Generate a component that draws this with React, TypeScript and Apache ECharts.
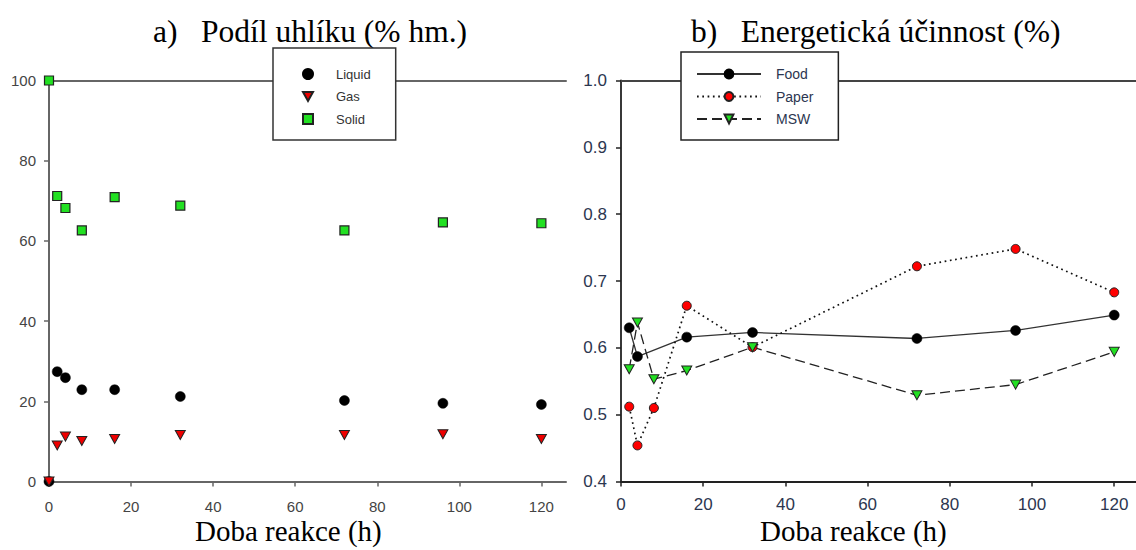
import React, { useEffect, useRef } from "react";
import * as echarts from "echarts";

// ---- data (panel a) ----
const timesA = [0, 2, 4, 8, 16, 32, 72, 96, 120];
const liquid = [0, 27.4, 25.9, 22.9, 22.9, 21.2, 20.2, 19.5, 19.2];
const gas = [0, 9.0, 11.2, 10.1, 10.6, 11.6, 11.6, 11.8, 10.6];
const solid = [100, 71.2, 68.2, 62.6, 70.9, 68.8, 62.6, 64.6, 64.4];

// ---- data (panel b) ----
const foodTimes = [2, 4, 16, 32, 72, 96, 120];
const food = [0.63, 0.587, 0.616, 0.623, 0.614, 0.626, 0.649];
const paperTimes = [2, 4, 8, 16, 32, 72, 96, 120];
const paper = [0.512, 0.454, 0.51, 0.663, 0.601, 0.722, 0.748, 0.683];
const mswTimes = [2, 4, 8, 16, 32, 72, 96, 120];
const msw = [0.568, 0.638, 0.553, 0.566, 0.601, 0.529, 0.545, 0.594];

const xTicks = [0, 20, 40, 60, 80, 100, 120];
const yTicksA = [0, 20, 40, 60, 80, 100];
const yTicksB = [0.4, 0.5, 0.6, 0.7, 0.8, 0.9, 1.0];

const titleA = "a)\u00a0\u00a0\u00a0Podíl uhlíku (% hm.)";
const titleB = "b)\u00a0\u00a0\u00a0Energetická účinnost (%)";
const xName = "Doba reakce (h)";

const pairs = (xs: number[], ys: number[]) => xs.map((x, i) => [x, ys[i]]);

const SERIF = '"Liberation Serif", "Times New Roman", serif';
const SANS = '"Liberation Sans", Arial, sans-serif';
const DOWN_TRIANGLE = "path://M0,0L10,0L5,9Z";

export default function App() {
  const ref = useRef<HTMLDivElement>(null);
  useEffect(() => {
    if (!ref.current) return;
    const chart = echarts.init(ref.current, undefined, { renderer: "svg" });
    const grayAxis = "#666";
    const darkAxis = "#222";
    const labelA = { fontFamily: SANS, fontSize: 15, color: "#444" };
    const labelB = { fontFamily: SANS, fontSize: 17, color: "#2c3650" };
    const option: any = {
      animation: false,
      backgroundColor: "#fff",
      grid: [
        { left: 49, top: 80.5, width: 517, height: 401 },
        { left: 621, top: 80.5, width: 515, height: 401 },
      ],
      xAxis: [
        {
          gridIndex: 0, type: "value", min: 0, max: 126, interval: 20,
          axisLine: { onZero: false, lineStyle: { color: grayAxis, width: 2 } },
          axisTick: { show: true, inside: false, length: 5, customValues: xTicks, lineStyle: { color: grayAxis, width: 1.5 } },
          axisLabel: { ...labelA, margin: 17, customValues: xTicks },
          splitLine: { show: false },
        },
        {
          gridIndex: 0, type: "value", position: "top", min: 0, max: 126,
          axisLine: { onZero: false, lineStyle: { color: grayAxis, width: 2 } },
          axisTick: { show: false }, axisLabel: { show: false }, splitLine: { show: false },
        },
        {
          gridIndex: 1, type: "value", min: 0, max: 125.3, interval: 20,
          axisLine: { onZero: false, lineStyle: { color: darkAxis, width: 1.8 } },
          axisTick: { show: true, inside: false, length: 5, customValues: xTicks, lineStyle: { color: darkAxis, width: 1.5 } },
          axisLabel: { ...labelB, margin: 14, customValues: xTicks },
          splitLine: { show: false },
        },
        {
          gridIndex: 1, type: "value", position: "top", min: 0, max: 125.3,
          axisLine: { onZero: false, lineStyle: { color: "#444", width: 2 } },
          axisTick: { show: false }, axisLabel: { show: false }, splitLine: { show: false },
        },
      ],
      yAxis: [
        {
          gridIndex: 0, type: "value", min: 0, max: 100, interval: 20,
          axisLine: { show: true, onZero: false, lineStyle: { color: grayAxis, width: 2 } },
          axisTick: { show: true, inside: false, length: 5, customValues: yTicksA, lineStyle: { color: grayAxis, width: 1.5 } },
          axisLabel: { ...labelA, margin: 13, customValues: yTicksA },
          splitLine: { show: false },
        },
        {
          gridIndex: 1, type: "value", min: 0.4, max: 1.0, interval: 0.1,
          axisLine: { show: true, onZero: false, lineStyle: { color: darkAxis, width: 1.8 } },
          axisTick: { show: true, inside: false, length: 5, customValues: yTicksB, lineStyle: { color: darkAxis, width: 1.5 } },
          axisLabel: { ...labelB, margin: 14, customValues: yTicksB, formatter: (v: number) => v.toFixed(1) },
          splitLine: { show: false },
        },
      ],
      legend: [
        {
          data: ["Liquid", { name: "Gas", icon: DOWN_TRIANGLE }, "Solid"],
          orient: "vertical", left: 273, top: 48,
          padding: [19, 25, 14, 29],
          itemWidth: 10, itemHeight: 10, itemGap: 8.5,
          backgroundColor: "#fff", borderColor: "#333", borderWidth: 1.5,
          textStyle: { fontFamily: SANS, fontSize: 13, lineHeight: 14, color: "#333", padding: [0, 0, 0, 18] },
        },
        {
          data: ["Food", "Paper", "MSW"],
          orient: "vertical", left: 681, top: 52,
          padding: [15, 25, 14, 15],
          itemWidth: 64, itemHeight: 11, itemGap: 8.5,
          backgroundColor: "#fff", borderColor: "#222", borderWidth: 1.5,
          textStyle: { fontFamily: SANS, fontSize: 14, lineHeight: 14, color: "#2c3650", padding: [0, 0, 0, 10] },
        },
      ],
      series: [
        {
          name: "Liquid", type: "scatter", xAxisIndex: 0, yAxisIndex: 0,
          symbol: "circle", symbolSize: 10,
          itemStyle: { color: "#000", borderColor: "#000", borderWidth: 0.5, opacity: 1 },
          data: pairs(timesA, liquid),
        },
        {
          name: "Gas", type: "scatter", xAxisIndex: 0, yAxisIndex: 0,
          symbol: "triangle", symbolRotate: 180, symbolSize: [10, 9],
          itemStyle: { color: "#ee0000", borderColor: "#222", borderWidth: 1, opacity: 1 },
          data: pairs(timesA, gas),
        },
        {
          name: "Solid", type: "scatter", xAxisIndex: 0, yAxisIndex: 0,
          symbol: "rect", symbolSize: 9,
          itemStyle: { color: "#22e022", borderColor: "#222", borderWidth: 1.2, opacity: 1 },
          data: pairs(timesA, solid),
        },
        {
          name: "Food", type: "line", xAxisIndex: 2, yAxisIndex: 1,
          symbol: "circle", symbolSize: 10, showSymbol: true,
          itemStyle: { color: "#000", borderColor: "#000", borderWidth: 0.5 },
          lineStyle: { color: "#333", width: 1.3, type: "solid" },
          data: pairs(foodTimes, food),
        },
        {
          name: "Paper", type: "line", xAxisIndex: 2, yAxisIndex: 1,
          symbol: "circle", symbolSize: 9, showSymbol: true,
          itemStyle: { color: "#ff0000", borderColor: "#222", borderWidth: 1 },
          lineStyle: { color: "#111", width: 1.7, type: [1.7, 3.6] },
          data: pairs(paperTimes, paper),
        },
        {
          name: "MSW", type: "line", xAxisIndex: 2, yAxisIndex: 1,
          symbol: "triangle", symbolRotate: 180, symbolSize: [10, 9], showSymbol: true,
          itemStyle: { color: "#22e022", borderColor: "#222", borderWidth: 1 },
          lineStyle: { color: "#222", width: 1.3, type: [10, 5] },
          data: pairs(mswTimes, msw),
        },
      ],
      graphic: [
        {
          type: "text", left: 153, top: 15,
          style: { text: titleA, fontFamily: SERIF, fontSize: 31.5, fill: "#000" },
        },
        {
          type: "text", left: 691, top: 15,
          style: { text: titleB, fontFamily: SERIF, fontSize: 31.5, fill: "#000" },
        },
        {
          type: "text", left: 195, top: 516,
          style: { text: xName, fontFamily: SERIF, fontSize: 29, fill: "#000" },
        },
        {
          type: "text", left: 760, top: 516,
          style: { text: xName, fontFamily: SERIF, fontSize: 29, fill: "#000" },
        },
      ],
    };
    chart.setOption(option);
    return () => chart.dispose();
  }, []);
  return (
    <div
      ref={ref}
      style={{ position: "absolute", left: 0, top: 0, width: 1136, height: 550 }}
    />
  );
}
